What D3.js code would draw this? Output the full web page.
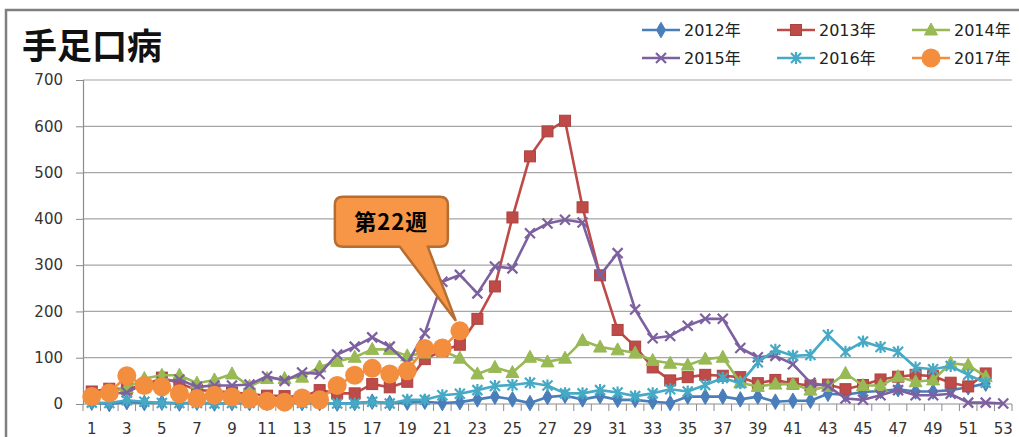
<!DOCTYPE html>
<html>
<head>
<meta charset="utf-8">
<script src="https://cdn.jsdelivr.net/npm/d3@7"></script>
<style>
  body { margin: 0; background: #fff; }
  svg { display: block; }
  .tick-label { font-family: "DejaVu Sans", "Noto Sans CJK JP", sans-serif; font-size: 15px; fill: #333; }
  .legend-label { font-family: "DejaVu Sans", "Noto Sans CJK JP", sans-serif; font-size: 16px; fill: #222; }
</style>
</head>
<body>
<svg id="chart" width="1019" height="437"></svg>
<script>
'use strict';

// weeks 1..53
var weeks = d3.range(1, 54);
var yTicks = [0, 100, 200, 300, 400, 500, 600, 700];
var seriesNames = ['2012年', '2013年', '2014年', '2015年', '2016年', '2017年'];

var y2012 = [3,0,4,2,3,1,3,1,2,2,2,4,2,2,1,2,5,2,3,5,2,4,10,16,10,2,15,18,10,17,9,9,5,2,16,16,16,10,16,5,7,7,22,20,26,28,32,27,27,30,36,44,null];
var y2013 = [27,33,33,40,57,45,30,28,25,22,18,17,15,30,23,23,43,36,48,97,115,128,184,254,403,535,589,612,425,278,160,124,79,51,58,63,61,58,45,52,44,40,42,32,41,53,59,63,60,46,38,66,null];
var y2014 = [20,25,35,55,62,62,45,52,65,38,55,55,58,80,92,101,118,118,104,110,115,99,65,79,68,101,91,99,137,123,117,110,94,88,84,97,101,46,38,43,43,30,38,66,40,40,59,48,52,88,84,59,null];
var y2015 = [20,22,25,44,48,53,37,40,40,42,60,50,68,65,107,124,144,124,88,153,264,279,239,297,293,369,390,398,392,278,326,204,142,147,169,184,184,121,101,104,86,46,39,12,9,19,30,19,19,22,3,3,1];
var y2016 = [3,2,8,5,2,2,2,1,2,2,2,2,2,2,1,1,5,1,9,9,19,22,30,39,41,46,40,23,23,30,25,17,23,32,27,41,56,45,90,117,104,106,149,113,135,123,113,79,75,82,63,46,null];
var y2017 = [16,24,61,40,37,22,12,19,15,11,6,4,13,9,40,62,77,65,72,120,121,158];

var calloutWeek = 22;
var calloutText = '第22週';

var colors = ['#4a7ebb', '#be4b48', '#98b954', '#7d60a0', '#46aac5', '#f38e3e'];
var markers = ['diamond', 'square', 'triangle', 'x', 'star', 'circle'];

var svg = d3.select('#chart');
var margin = {left: 83, right: 1012, top: 80, bottom: 404};

// frame of the chart area
svg.append('path')
    .attr('d', 'M6,437 L6,10 L1019,10')
    .attr('fill', 'none')
    .attr('stroke', '#7f7f7f')
    .attr('stroke-width', 2.5);

// title
svg.append('text')
    .attr('x', 22).attr('y', 59)
    .style('font-family', '"Noto Sans CJK JP", sans-serif')
    .style('font-size', '35px')
    .style('font-weight', 'bold')
    .attr('fill', '#111')
    .text('手足口病');

var x = d3.scaleBand().domain(weeks).range([margin.left, margin.right]);
var cx = function(w) { return x(w) + x.bandwidth() / 2; };
var y = d3.scaleLinear().domain([0, 700]).range([margin.bottom, margin.top]);

// gridlines
svg.append('g').selectAll('line')
    .data(yTicks.filter(function(t) { return t > 0; }))
    .enter().append('line')
        .attr('x1', margin.left).attr('x2', margin.right)
        .attr('y1', function(d) { return y(d); })
        .attr('y2', function(d) { return y(d); })
        .attr('stroke', '#a6a6a6')
        .attr('stroke-width', 1.2);

// y axis
var yAxis = svg.append('g')
    .attr('transform', 'translate(' + margin.left + ',0)')
    .call(d3.axisLeft(y).tickValues(yTicks).tickSize(7).tickPadding(13));
yAxis.select('.domain').attr('stroke', '#8c8c8c').attr('stroke-width', 1.2);
yAxis.selectAll('.tick line').attr('stroke', '#8c8c8c');
yAxis.selectAll('.tick text').attr('class', 'tick-label').attr('font-family', null).attr('font-size', null);

// x axis: ticks between categories, labels on odd weeks
var boundaries = weeks.map(function(w) { return x(w); }).concat([margin.right]);
var xg = svg.append('g');
xg.append('line')
    .attr('x1', margin.left).attr('x2', margin.right)
    .attr('y1', margin.bottom).attr('y2', margin.bottom)
    .attr('stroke', '#8c8c8c').attr('stroke-width', 1.2);
xg.selectAll('line.tk')
    .data(boundaries)
    .enter().append('line')
        .attr('class', 'tk')
        .attr('x1', function(d) { return d; }).attr('x2', function(d) { return d; })
        .attr('y1', margin.bottom).attr('y2', margin.bottom + 7)
        .attr('stroke', '#8c8c8c');
xg.selectAll('text')
    .data(weeks.filter(function(w) { return w % 2 === 1; }))
    .enter().append('text')
        .attr('class', 'tick-label')
        .attr('x', cx)
        .attr('y', 434)
        .attr('text-anchor', 'middle')
        .text(function(d) { return d; });

// marker drawing
function drawMarker(sel, type, color) {
    if (type === 'diamond') {
        sel.append('path').attr('d', d3.symbol().type(d3.symbolDiamond).size(70)())
            .attr('fill', color).attr('stroke', color);
    } else if (type === 'square') {
        sel.append('rect').attr('x', -5.5).attr('y', -5.5).attr('width', 11).attr('height', 11)
            .attr('fill', color).attr('stroke', d3.color(color).darker(0.3)).attr('stroke-width', 1);
    } else if (type === 'triangle') {
        sel.append('path').attr('d', 'M0,-7 L6.5,5 L-6.5,5 Z')
            .attr('fill', color).attr('stroke', color);
    } else if (type === 'x') {
        sel.append('path').attr('d', 'M-5,-5 L5,5 M-5,5 L5,-5')
            .attr('stroke', color).attr('stroke-width', 2.2);
    } else if (type === 'star') {
        sel.append('path').attr('d', 'M-5,-5 L5,5 M-5,5 L5,-5 M0,-6 L0,6')
            .attr('stroke', color).attr('stroke-width', 2.2);
    } else {
        sel.append('circle').attr('r', 9.5).attr('fill', color);
    }
}

var allSeries = [y2012, y2013, y2014, y2015, y2016, y2017];

var line = d3.line()
    .defined(function(d) { return d != null; })
    .x(function(d, i) { return cx(weeks[i]); })
    .y(function(d) { return y(d); });

allSeries.forEach(function(vals, si) {
    var g = svg.append('g');
    g.append('path')
        .attr('d', line(vals))
        .attr('fill', 'none')
        .attr('stroke', colors[si])
        .attr('stroke-width', 2.6)
        .attr('stroke-linejoin', 'round');
    vals.forEach(function(v, i) {
        if (v == null) return;
        var m = g.append('g').attr('transform', 'translate(' + cx(weeks[i]) + ',' + y(v) + ')');
        drawMarker(m, markers[si], colors[si]);
    });
});

// callout for 2017 week 22
var tipX = cx(calloutWeek) - 4;
var tipY = y(y2017[calloutWeek - 1]) - 10;
var bx0 = tipX - 121, bx1 = tipX - 8, by0 = tipY - 124, by1 = tipY - 74, r = 8;
var p0 = tipX - 56, p1 = tipX - 28;
var calloutPath = 'M' + (bx0 + r) + ',' + by0 +
    ' L' + (bx1 - r) + ',' + by0 +
    ' Q' + bx1 + ',' + by0 + ' ' + bx1 + ',' + (by0 + r) +
    ' L' + bx1 + ',' + (by1 - r) +
    ' Q' + bx1 + ',' + by1 + ' ' + (bx1 - r) + ',' + by1 +
    ' L' + p1 + ',' + by1 +
    ' L' + tipX + ',' + tipY +
    ' L' + p0 + ',' + by1 +
    ' L' + (bx0 + r) + ',' + by1 +
    ' Q' + bx0 + ',' + by1 + ' ' + bx0 + ',' + (by1 - r) +
    ' L' + bx0 + ',' + (by0 + r) +
    ' Q' + bx0 + ',' + by0 + ' ' + (bx0 + r) + ',' + by0 + ' Z';
svg.append('path')
    .attr('d', calloutPath)
    .attr('fill', '#f79646')
    .attr('stroke', '#b66d31')
    .attr('stroke-width', 2.5);
svg.append('text')
    .attr('x', (bx0 + bx1) / 2).attr('y', (by0 + by1) / 2 + 8)
    .attr('text-anchor', 'middle')
    .style('font-family', '"Noto Sans CJK JP", sans-serif')
    .style('font-size', '22px')
    .style('font-weight', 'bold')
    .style('letter-spacing', '1px')
    .attr('fill', '#000')
    .text(calloutText);

// legend: 2 rows x 3 columns
var legendX = [642, 777, 912];
var legendY = [30, 58];
seriesNames.forEach(function(name, i) {
    var lx = legendX[i % 3], ly = legendY[Math.floor(i / 3)];
    var g = svg.append('g');
    g.append('line')
        .attr('x1', lx).attr('x2', lx + 38)
        .attr('y1', ly).attr('y2', ly)
        .attr('stroke', colors[i]).attr('stroke-width', 2.6);
    drawMarker(g.append('g').attr('transform', 'translate(' + (lx + 19) + ',' + ly + ')'), markers[i], colors[i]);
    g.append('text')
        .attr('class', 'legend-label')
        .attr('x', lx + 42).attr('y', ly + 6)
        .text(name);
});
</script>
</body>
</html>
